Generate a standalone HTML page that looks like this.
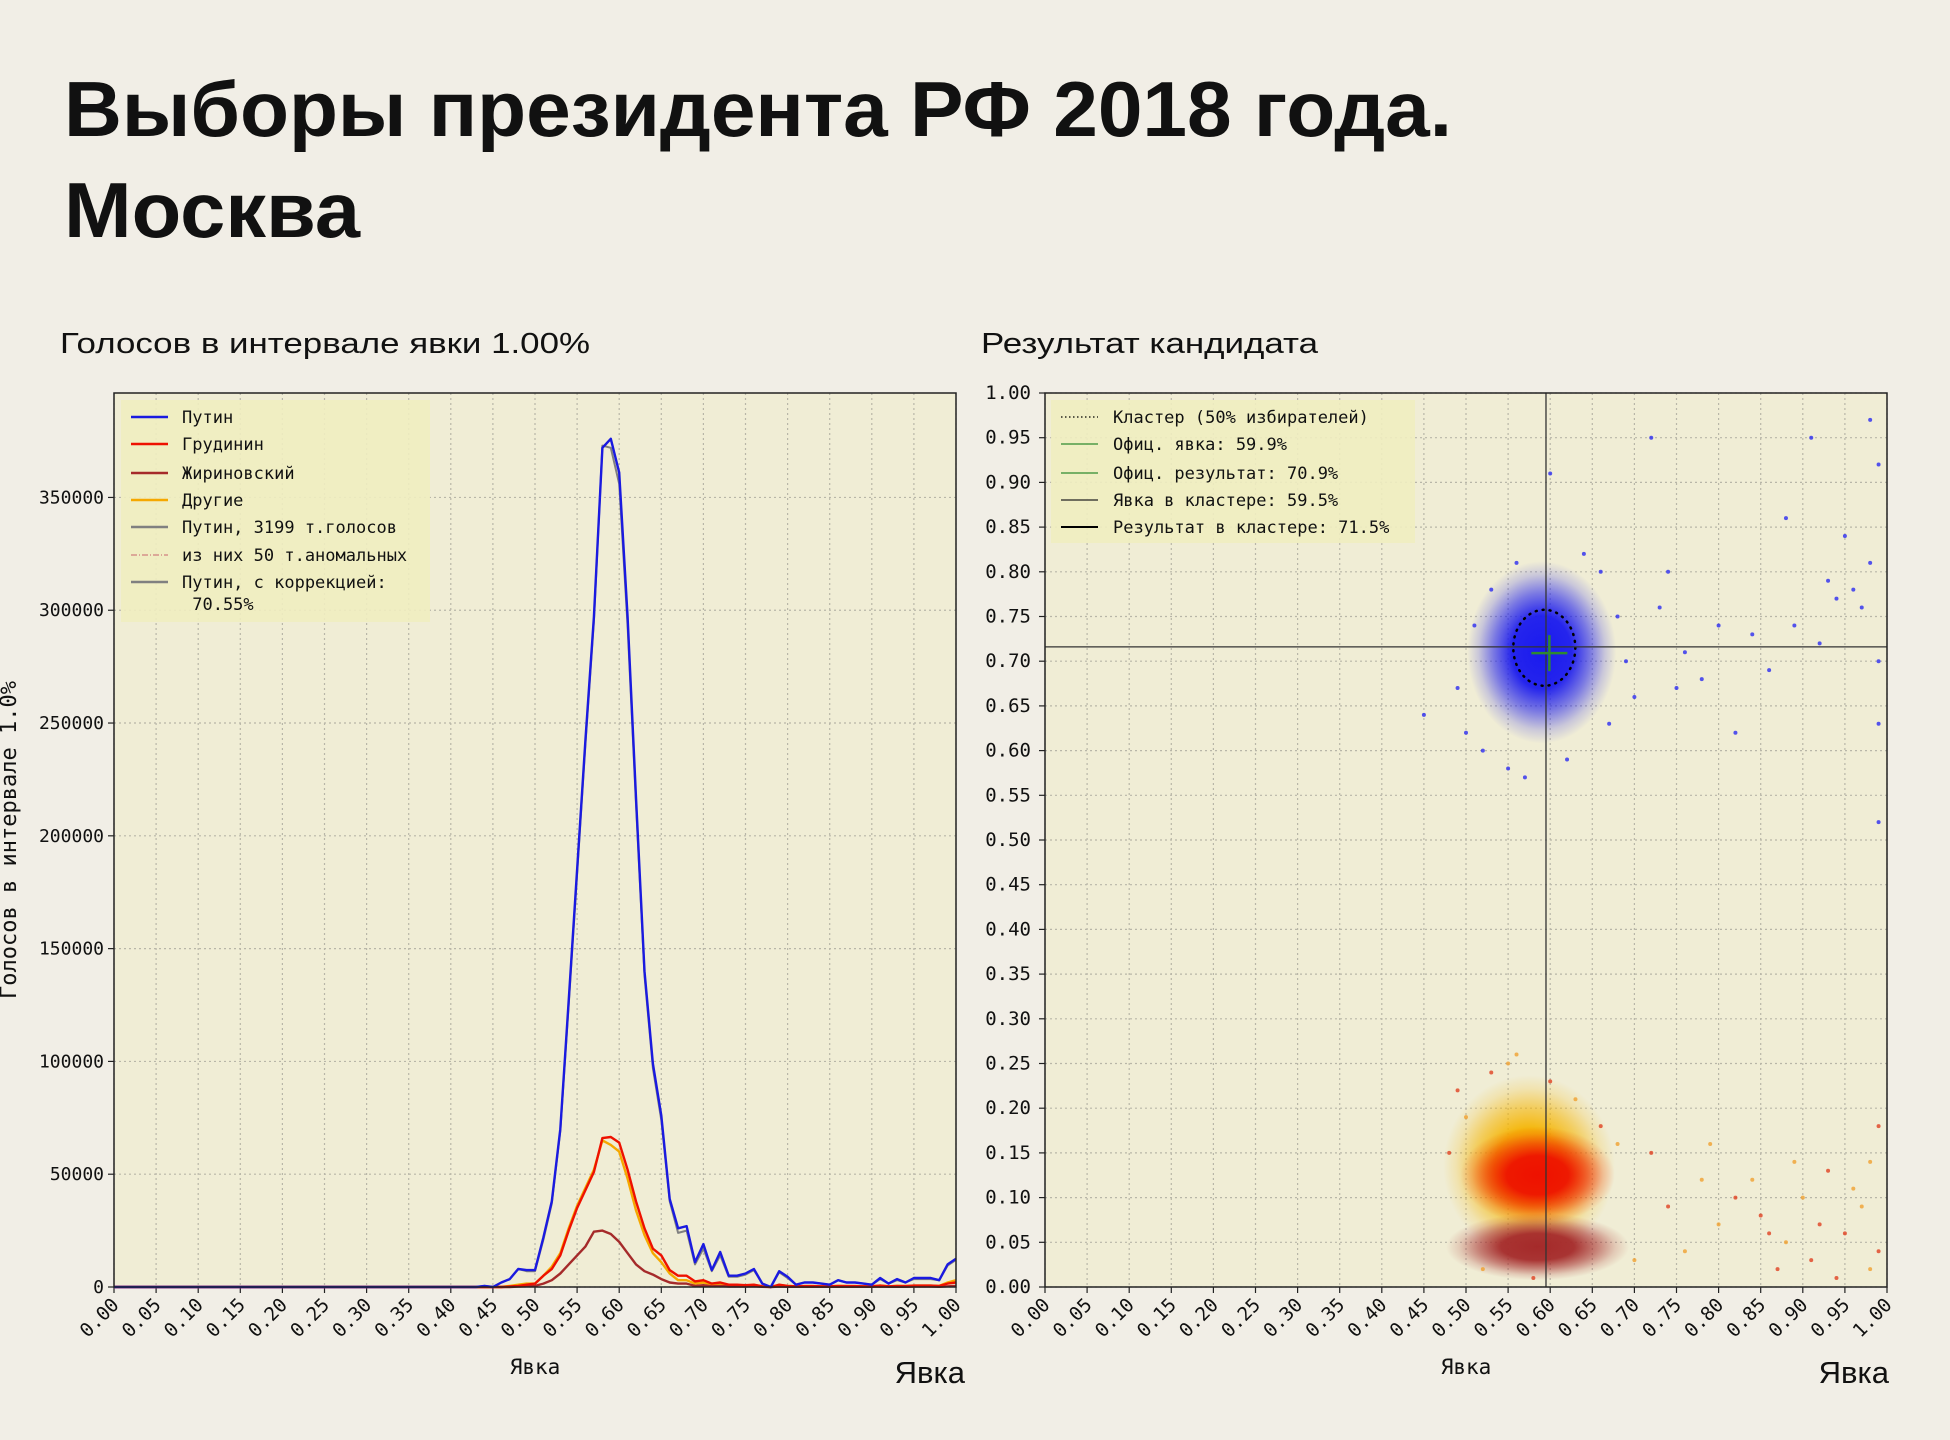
<!DOCTYPE html>
<html><head><meta charset="utf-8">
<style>
html,body{margin:0;padding:0;background:#f1eee6;}
svg{display:block;}
.mono{font-family:"DejaVu Sans Mono","Liberation Mono",monospace;}
.sans{font-family:"Liberation Sans","DejaVu Sans",sans-serif;}
</style></head>
<body>
<svg id="root" width="1950" height="1440" viewBox="0 0 1950 1440" xmlns="http://www.w3.org/2000/svg">
<rect width="1950" height="1440" fill="#f1eee6"/>
<text x="64" y="136" class="sans" font-weight="bold" font-size="78" fill="#111" textLength="1388" lengthAdjust="spacingAndGlyphs">Выборы президента РФ 2018 года.</text>
<text x="64" y="237" class="sans" font-weight="bold" font-size="78" fill="#111" textLength="296" lengthAdjust="spacingAndGlyphs">Москва</text>
<text x="60" y="353" class="sans" font-size="29" fill="#111" textLength="530" lengthAdjust="spacingAndGlyphs">Голосов в интервале явки 1.00%</text>
<text x="981" y="353" class="sans" font-size="29" fill="#111" textLength="337" lengthAdjust="spacingAndGlyphs">Результат кандидата</text>
<g id="left"></g>
<g id="right"></g>
</svg>
<script>
// ---------- Left chart data ----------
const bins = [];
for (let i = 0; i <= 100; i++) bins.push(i / 100);
const putinValues = [0,0,0,0,0,0,0,0,0,0, 0,0,0,0,0,0,0,0,0,0, 0,0,0,0,0,0,0,0,0,0, 0,0,0,0,0,0,0,0,0,0, 0,0,0,0,500,0,2000,3500,8000,7500,
 7500,22000,38000,70000,127000,185000,243000,297000,372000,376000, 361000,297000,217000,140000,99000,76000,39000,26000,27000,11000,
 19000,7500,15500,5000,5000,6000,8000,1500,0,7000, 4500,1000,2000,2000,1500,1000,3000,2000,2000,1500,
 1000,4000,1500,3500,2000,4000,4000,4000,3000,10000,12500];
const putinCorrValues = [0,0,0,0,0,0,0,0,0,0, 0,0,0,0,0,0,0,0,0,0, 0,0,0,0,0,0,0,0,0,0, 0,0,0,0,0,0,0,0,0,0, 0,0,0,0,500,0,2000,3500,8000,7000,
 7000,21000,37000,69000,125000,183000,241000,295000,373000,372000, 356000,293000,214000,138000,97000,74000,38000,24000,25000,10000,
 17000,7000,14000,4500,4500,5500,7500,1500,0,6500, 4000,1000,2000,2000,1500,1000,3000,2000,2000,1500,
 1000,3500,1500,3000,2000,3500,3500,3500,3000,9500,12000];
const grudininValues = [0,0,0,0,0,0,0,0,0,0, 0,0,0,0,0,0,0,0,0,0, 0,0,0,0,0,0,0,0,0,0, 0,0,0,0,0,0,0,0,0,0, 0,0,0,0,0,0,0,200,500,1000,
 1500,5000,8000,14000,25000,35000,43000,51000,66000,66500, 64000,52000,38000,26000,17000,14000,7500,5000,5000,2500,
 3000,1500,2000,1000,1000,800,1000,300,0,1000, 500,300,400,400,300,300,500,400,400,300,
 300,600,300,500,400,600,600,600,500,1500,2000];
const othersValues = [0,0,0,0,0,0,0,0,0,0, 0,0,0,0,0,0,0,0,0,0, 0,0,0,0,0,0,0,0,0,0, 0,0,0,0,0,0,0,0,0,0, 0,0,0,0,0,0,0,500,1000,1500,
 1500,5000,9000,15000,26000,36000,44000,52000,65000,63000, 60000,48000,34000,23000,15000,11000,6000,3000,3000,1500,
 2000,1000,1500,800,800,700,900,300,0,900, 500,300,400,400,300,300,500,400,400,300,
 300,600,300,500,400,600,600,600,500,2000,3000];
const zhirinovskyValues = [0,0,0,0,0,0,0,0,0,0, 0,0,0,0,0,0,0,0,0,0, 0,0,0,0,0,0,0,0,0,0, 0,0,0,0,0,0,0,0,0,0, 0,0,0,0,0,0,0,0,200,300,
 500,1500,3000,6000,10000,14000,18000,24500,25000,23500, 20000,15000,10000,7000,5500,3500,2000,1500,1500,500,
 800,300,500,200,200,200,300,100,0,200, 100,100,100,100,100,100,100,100,100,100,
 100,200,100,100,100,200,200,200,100,300,500];
const leftYTicks = [0,50000,100000,150000,200000,250000,300000,350000];
const xTickLabels = ["0.00","0.05","0.10","0.15","0.20","0.25","0.30","0.35","0.40","0.45","0.50","0.55","0.60","0.65","0.70","0.75","0.80","0.85","0.90","0.95","1.00"];
const rightYTickLabels = ["0.00","0.05","0.10","0.15","0.20","0.25","0.30","0.35","0.40","0.45","0.50","0.55","0.60","0.65","0.70","0.75","0.80","0.85","0.90","0.95","1.00"];

// ---------- Right chart data ----------
const clusterNames = ["others-cluster","zhirinovsky-cluster","grudinin-cluster","putin-cluster"];
const clusterX = [0.575,0.585,0.585,0.590];
const clusterY = [0.135,0.045,0.125,0.710];
const clusterSX = [0.060,0.064,0.054,0.052];
const clusterSY = [0.060,0.022,0.032,0.060];
const clusterColors = ["#f5b400","#a52a2a","#ee1100","#1a1aee"];
const outlierX = [0.72,0.91,0.98,0.99,0.95,0.88,0.84,0.80,0.76,0.74,0.97,0.93,0.86,0.99,0.99,0.60,0.70,0.78,0.92,0.96,0.45,0.82,0.89,0.75,0.73,0.98,0.99,0.94,0.50,0.49,0.52,0.55,0.57,0.66,0.68,0.64,0.62,0.53,0.69,0.67,0.51,0.56];
const outlierY = [0.95,0.95,0.97,0.92,0.84,0.86,0.73,0.74,0.71,0.80,0.76,0.79,0.69,0.63,0.52,0.91,0.66,0.68,0.72,0.78,0.64,0.62,0.74,0.67,0.76,0.81,0.70,0.77,0.62,0.67,0.60,0.58,0.57,0.80,0.75,0.82,0.59,0.78,0.70,0.63,0.74,0.81];
const outlierWarmX = [0.72,0.78,0.85,0.90,0.95,0.98,0.99,0.88,0.82,0.76,0.93,0.97,0.87,0.80,0.91,0.96,0.99,0.84,0.74,0.70,0.92,0.89,0.94,0.98,0.86,0.79,0.49,0.50,0.53,0.56,0.60,0.63,0.66,0.52,0.58,0.68,0.48,0.55];
const outlierWarmY = [0.15,0.12,0.08,0.10,0.06,0.14,0.04,0.05,0.10,0.04,0.13,0.09,0.02,0.07,0.03,0.11,0.18,0.12,0.09,0.03,0.07,0.14,0.01,0.02,0.06,0.16,0.22,0.19,0.24,0.26,0.23,0.21,0.18,0.02,0.01,0.16,0.15,0.25];
const crossX = 0.595, crossY = 0.716;       // cluster turnout / result
const officialX = 0.599, officialY = 0.709; // official turnout / result

const NS = "http://www.w3.org/2000/svg";
function mk(parent, tag, attrs, text) {
  const e = document.createElementNS(NS, tag);
  for (const k in attrs) e.setAttribute(k, attrs[k]);
  if (text !== undefined) e.textContent = text;
  parent.appendChild(e);
  return e;
}

// ---------- Left chart ----------
const L = {x0:114, x1:956, y0:1287, y1:393, ymax:396300};
const lx = v => L.x0 + v * (L.x1 - L.x0);
const ly = v => L.y0 - v / L.ymax * (L.y0 - L.y1);
const left = document.getElementById('left');
let bg = mk(left, 'rect', {x:L.x0, y:L.y1, width:L.x1-L.x0, height:L.y0-L.y1, fill:'#f0edd5'});


xTickLabels.forEach((t, i) => {
  const x = lx(i * 0.05);
  const g = mk(left, 'line', {x1:x, x2:x, y1:L.y1, y2:L.y0, stroke:'#b8b6a8', 'stroke-width':1.2, 'stroke-dasharray':'2,3'});
  
  
  mk(left, 'line', {x1:x, x2:x, y1:L.y0, y2:L.y0+6, stroke:'#222', 'stroke-width':1.2});
  const tl = mk(left, 'text', {x:x+6, y:L.y0+19, 'text-anchor':'end', 'font-size':19, class:'mono', fill:'#111', transform:`rotate(-45 ${x+6} ${L.y0+19})`}, t);
  
  
});
leftYTicks.forEach(v => {
  const y = ly(v);
  const g = mk(left, 'line', {x1:L.x0, x2:L.x1, y1:y, y2:y, stroke:'#b8b6a8', 'stroke-width':1.2, 'stroke-dasharray':'2,3'});
  
  
  mk(left, 'line', {x1:L.x0-6, x2:L.x0, y1:y, y2:y, stroke:'#222', 'stroke-width':1.2});
  const tl = mk(left, 'text', {x:104, y:y+6, 'text-anchor':'end', 'font-size':18, class:'mono', fill:'#111'}, String(v));
  
  
});
function series(vals, color, name, w) {
  const d = vals.map((v, i) => (i ? 'L' : 'M') + lx(bins[i]).toFixed(1) + ',' + ly(v).toFixed(1)).join(' ');
  const p = mk(left, 'path', {d:d, fill:'none', stroke:color, 'stroke-width':w||2.4, 'stroke-linejoin':'round'});
  
  
}
series(othersValues, '#f5a800', 'series-others');
series(zhirinovskyValues, '#a52a2a', 'series-zhirinovsky');
series(grudininValues, '#ee1100', 'series-grudinin');
series(putinCorrValues, '#808080', 'series-putin-corrected', 2);
series(putinValues, '#1a1ae0', 'series-putin');
mk(left, 'rect', {x:L.x0, y:L.y1, width:L.x1-L.x0, height:L.y0-L.y1, fill:'none', stroke:'#222', 'stroke-width':1.5});
// legend
let lg = mk(left, 'g', {});


mk(lg, 'rect', {x:121, y:400, width:309, height:222, fill:'#efedc0', opacity:0.9});
const leftLegendLabels = ["Путин","Грудинин","Жириновский","Другие","Путин, 3199 т.голосов","из них 50 т.аномальных","Путин, с коррекцией:"];
const leftLegendColors = ['#1a1ae0','#ee1100','#a52a2a','#f5a800','#808080','#d08080','#808080'];
const leftLegendY = [417,444,473,500,527,555,582];
leftLegendLabels.forEach((t, i) => {
  const y = leftLegendY[i];
  const attrs = {x1:131, x2:168, y1:y, y2:y, stroke:leftLegendColors[i], 'stroke-width':i===5?1.2:2.4};
  if (i === 5) attrs['stroke-dasharray'] = '6,2,1,2';
  mk(lg, 'line', attrs);
  const e = mk(lg, 'text', {x:182, y:y+6, 'font-size':17, class:'mono', fill:'#111'}, t);
  
  
});
mk(lg, 'text', {x:182, y:610, 'font-size':17, class:'mono', fill:'#111', 'xml:space':'preserve'}, '\u00a070.55%');
let yl = mk(left, 'text', {x:16, y:840, 'text-anchor':'middle', 'font-size':22, class:'mono', fill:'#111', transform:'rotate(-90 16 840)'}, 'Голосов в интервале 1.0%');


let xl = mk(left, 'text', {x:535, y:1374, 'text-anchor':'middle', 'font-size':21, class:'mono', fill:'#111'}, 'Явка');


let xb = mk(left, 'text', {x:965, y:1383, 'text-anchor':'end', 'font-size':31, class:'sans', fill:'#111'}, 'Явка');



// ---------- Right chart ----------
const R = {x0:1045, x1:1887, y0:1287, y1:393};
const rx = v => R.x0 + v * (R.x1 - R.x0);
const ry = v => R.y0 - v * (R.y0 - R.y1);
const right = document.getElementById('right');
const defs = mk(right, 'defs', {});
clusterColors.forEach((c, i) => {
  const gr = mk(defs, 'radialGradient', {id:'cg'+i});
  mk(gr, 'stop', {offset:'0', 'stop-color':c, 'stop-opacity':1});
  mk(gr, 'stop', {offset:'0.4', 'stop-color':c, 'stop-opacity':0.95});
  mk(gr, 'stop', {offset:'0.65', 'stop-color':c, 'stop-opacity':0.55});
  mk(gr, 'stop', {offset:'0.85', 'stop-color':c, 'stop-opacity':0.18});
  mk(gr, 'stop', {offset:'1', 'stop-color':c, 'stop-opacity':0});
});
let rbg = mk(right, 'rect', {x:R.x0, y:R.y1, width:R.x1-R.x0, height:R.y0-R.y1, fill:'#f0edd5'});


xTickLabels.forEach((t, i) => {
  const x = rx(i * 0.05);
  const g = mk(right, 'line', {x1:x, x2:x, y1:R.y1, y2:R.y0, stroke:'#b8b6a8', 'stroke-width':1.2, 'stroke-dasharray':'2,3'});
  
  
  mk(right, 'line', {x1:x, x2:x, y1:R.y0, y2:R.y0+6, stroke:'#222', 'stroke-width':1.2});
  const tl = mk(right, 'text', {x:x+6, y:R.y0+19, 'text-anchor':'end', 'font-size':19, class:'mono', fill:'#111', transform:`rotate(-45 ${x+6} ${R.y0+19})`}, t);
  
  
});
rightYTickLabels.forEach((t, i) => {
  const y = ry(i * 0.05);
  const g = mk(right, 'line', {x1:R.x0, x2:R.x1, y1:y, y2:y, stroke:'#b8b6a8', 'stroke-width':1.2, 'stroke-dasharray':'2,3'});
  
  
  mk(right, 'line', {x1:R.x0-6, x2:R.x0, y1:y, y2:y, stroke:'#222', 'stroke-width':1.2});
  const tl = mk(right, 'text', {x:1031, y:y+6, 'text-anchor':'end', 'font-size':19, class:'mono', fill:'#111'}, t);
  
  
});
clusterNames.forEach((n, i) => {
  const e = mk(right, 'ellipse', {cx:rx(clusterX[i]), cy:ry(clusterY[i]), rx:clusterSX[i]*(R.x1-R.x0)*1.7, ry:clusterSY[i]*(R.y0-R.y1)*1.7, fill:`url(#cg${i})`});
  
  
});
outlierX.forEach((v, i) => {
  const c = mk(right, 'circle', {cx:rx(v), cy:ry(outlierY[i]), r:2, fill:'#2a2af0', opacity:0.8});
  
  
});
outlierWarmX.forEach((v, i) => {
  const c = mk(right, 'circle', {cx:rx(v), cy:ry(outlierWarmY[i]), r:2, fill:i%2?'#f0a030':'#e04020', opacity:0.8});
  
  
});
let circ = mk(right, 'ellipse', {cx:rx(crossX-0.002), cy:ry(crossY-0.001), rx:31, ry:38, fill:'none', stroke:'#000', 'stroke-width':2.5, 'stroke-dasharray':'1,6', 'stroke-linecap':'round'});


let vl = mk(right, 'line', {x1:rx(crossX), x2:rx(crossX), y1:R.y1, y2:R.y0, stroke:'#333', 'stroke-width':1.3});


let hl = mk(right, 'line', {x1:R.x0, x2:R.x1, y1:ry(crossY), y2:ry(crossY), stroke:'#333', 'stroke-width':1.3});


let g1 = mk(right, 'line', {x1:rx(officialX)-18, x2:rx(officialX)+18, y1:ry(officialY), y2:ry(officialY), stroke:'#2f8a2f', 'stroke-width':2.5});


let g2 = mk(right, 'line', {x1:rx(officialX), x2:rx(officialX), y1:ry(officialY)-18, y2:ry(officialY)+18, stroke:'#2f8a2f', 'stroke-width':2.5});


mk(right, 'rect', {x:R.x0, y:R.y1, width:R.x1-R.x0, height:R.y0-R.y1, fill:'none', stroke:'#222', 'stroke-width':1.5});
let rlg = mk(right, 'g', {});


mk(rlg, 'rect', {x:1051, y:400, width:364, height:143, fill:'#efedc0', opacity:0.9});
const rightLegendLabels = ["Кластер (50% избирателей)","Офиц. явка: 59.9%","Офиц. результат: 70.9%","Явка в кластере: 59.5%","Результат в кластере: 71.5%"];
const rightLegendColors = ['#000','#2f8a2f','#2f8a2f','#222','#000'];
const rightLegendY = [417,444,473,500,527];
rightLegendLabels.forEach((t, i) => {
  const y = rightLegendY[i];
  const attrs = {x1:1061, x2:1098, y1:y, y2:y, stroke:rightLegendColors[i], 'stroke-width':i===4?2:1.3};
  if (i === 0) attrs['stroke-dasharray'] = '1.5,2.5';
  mk(rlg, 'line', attrs);
  const e = mk(rlg, 'text', {x:1113, y:y+6, 'font-size':17, class:'mono', fill:'#111'}, t);
  
  
});
let rxl = mk(right, 'text', {x:1466, y:1374, 'text-anchor':'middle', 'font-size':21, class:'mono', fill:'#111'}, 'Явка');


let rxb = mk(right, 'text', {x:1889, y:1383, 'text-anchor':'end', 'font-size':31, class:'sans', fill:'#111'}, 'Явка');


</script>
</body></html>
